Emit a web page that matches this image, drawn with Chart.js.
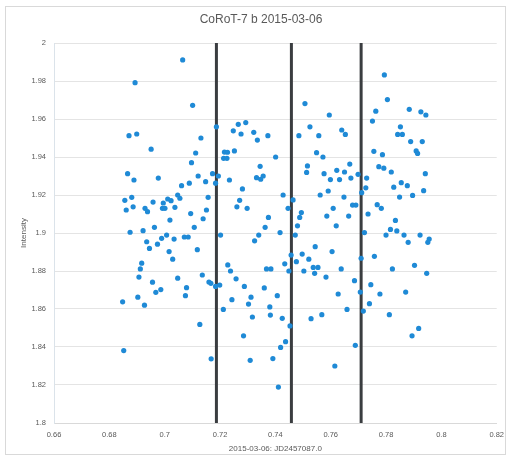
<!DOCTYPE html>
<html>
<head>
<meta charset="utf-8">
<title>CoRoT-7 b 2015-03-06</title>
<script src="https://cdn.jsdelivr.net/npm/chart.js@4/dist/chart.umd.min.js"></script>
<style>
  html, body { margin: 0; padding: 0; background: #ffffff; }
  canvas { display: block; }
</style>
</head>
<body>
<canvas id="lc" width="511" height="459"></canvas>
<script>
// Photometry of the CoRoT-7 b transit night, time as fraction of JD 2457087.0
const chartTitle = 'CoRoT-7 b 2015-03-06';
const xAxisTitle = '2015-03-06: JD2457087.0';
const yAxisTitle = 'Intensity';

const timeJD = [
  0.7065, 0.6893, 0.7101, 0.7187, 0.6871, 0.6899, 0.7131, 0.6951, 0.7112, 0.7097,
  0.6866, 0.6889, 0.6977, 0.7121, 0.7173, 0.7194, 0.7148, 0.7184, 0.7061, 0.7089,
  0.6856, 0.6881, 0.6861, 0.6886, 0.6929, 0.6938, 0.6958, 0.6995, 0.7011, 0.7023,
  0.6992, 0.7001, 0.7037, 0.7047, 0.7055, 0.7094, 0.7151, 0.7157, 0.7019, 0.7139,
  0.6875, 0.6922, 0.6963, 0.7107, 0.6935, 0.6945, 0.6974, 0.6989, 0.7007, 0.7034,
  0.7071, 0.7085, 0.7118, 0.7016, 0.7029, 0.6917, 0.6912, 0.6907, 0.6956, 0.7047,
  0.6968, 0.6986, 0.7079, 0.7075, 0.7136, 0.7160, 0.7167, 0.7184, 0.7199, 0.6903,
  0.6927, 0.6848, 0.7127, 0.6852, 0.7168,
  0.7248, 0.7266, 0.7293, 0.7276, 0.7322, 0.7335, 0.7373, 0.7216, 0.7227, 0.7213,
  0.7225, 0.7252, 0.7234, 0.7345, 0.7332, 0.7347, 0.7356, 0.7281, 0.7271, 0.7261,
  0.7298, 0.7375, 0.7401, 0.7428, 0.7446, 0.7464, 0.7202, 0.7363, 0.7340, 0.7325,
  0.7228, 0.7238, 0.7258, 0.7288, 0.7360, 0.7368, 0.7384, 0.7243, 0.7212, 0.7312,
  0.7303, 0.7380, 0.7317, 0.7382, 0.7285, 0.7309, 0.7391, 0.7417, 0.7434, 0.7449,
  0.7457, 0.7407, 0.7425, 0.7453, 0.7437, 0.7419, 0.7411,
  0.7488, 0.7494, 0.7507, 0.7485, 0.7525, 0.7557, 0.7595, 0.7640, 0.7653, 0.7549,
  0.7572, 0.7516, 0.7513, 0.7576, 0.7599, 0.7622, 0.7632, 0.7650, 0.7669, 0.7673,
  0.7562, 0.7591, 0.7648, 0.7609, 0.7586, 0.7665, 0.7679, 0.7691, 0.7699, 0.7480,
  0.7472, 0.7620, 0.7544, 0.7605, 0.7497, 0.7521, 0.7476, 0.7503, 0.7537, 0.7554,
  0.7542, 0.7583, 0.7638, 0.7686, 0.7627, 0.7529, 0.7568, 0.7659, 0.7615, 0.7689,
  0.7794, 0.7805, 0.7763, 0.7751, 0.7884, 0.7926, 0.7944, 0.7852, 0.7842, 0.7859,
  0.7889, 0.7931, 0.7756, 0.7787, 0.7909, 0.7914, 0.7774, 0.7792, 0.7819, 0.7942,
  0.7730, 0.7727, 0.7712, 0.7828, 0.7855, 0.7877, 0.7849, 0.7896, 0.7936, 0.7768,
  0.7783, 0.7735, 0.7834, 0.7722, 0.7800, 0.7816, 0.7839, 0.7865, 0.7880, 0.7923,
  0.7956, 0.7951, 0.7710, 0.7758, 0.7823, 0.7903, 0.7947, 0.7745, 0.7707, 0.7778,
  0.7871, 0.7740, 0.7718, 0.7812, 0.7894, 0.7918
];

const intensity = [
  1.9911, 1.9791, 1.9672, 1.9559, 1.9512, 1.9521, 1.9500, 1.9441, 1.9421, 1.9370,
  1.9312, 1.9279, 1.9289, 1.9300, 1.9312, 1.9300, 1.9270, 1.9262, 1.9249, 1.9262,
  1.9172, 1.9188, 1.9121, 1.9138, 1.9130, 1.9112, 1.9163, 1.9158, 1.9179, 1.9170,
  1.9130, 1.9130, 1.9135, 1.9200, 1.9183, 1.9102, 1.9121, 1.9188, 1.9068, 1.9075,
  1.9004, 1.9012, 1.9030, 1.9030, 1.8954, 1.8919, 1.8941, 1.8972, 1.8989, 1.8968,
  1.8979, 1.8979, 1.8912, 1.8902, 1.8862, 1.8841, 1.8811, 1.8768, 1.8741, 1.8762,
  1.8688, 1.8702, 1.8712, 1.8670, 1.8779, 1.8742, 1.8735, 1.8719, 1.8726, 1.8662,
  1.8620, 1.8638, 1.8519, 1.8381, 1.8338,
  1.9538, 1.9572, 1.9581, 1.9521, 1.9530, 1.9489, 1.9512, 1.9426, 1.9425, 1.9393,
  1.9393, 1.9432, 1.9279, 1.9351, 1.9291, 1.9283, 1.9300, 1.9232, 1.9172, 1.9138,
  1.9130, 1.9082, 1.9400, 1.9200, 1.9130, 1.9174, 1.8989, 1.9030, 1.8989, 1.8959,
  1.8832, 1.8800, 1.8759, 1.8719, 1.8711, 1.8811, 1.8811, 1.8649, 1.8598, 1.8662,
  1.8626, 1.8611, 1.8558, 1.8568, 1.8459, 1.8330, 1.8339, 1.9002, 1.8838, 1.8800,
  1.8884, 1.8670, 1.8551, 1.8511, 1.8428, 1.8398, 1.8189,
  1.9082, 1.9108, 1.9681, 1.9512, 1.9559, 1.9512, 1.9621, 1.9542, 1.9519, 1.9423,
  1.9400, 1.9353, 1.9319, 1.9312, 1.9281, 1.9330, 1.9281, 1.9321, 1.9363, 1.9289,
  1.9200, 1.9221, 1.9189, 1.9130, 1.9089, 1.9089, 1.9147, 1.9147, 1.9309, 1.9038,
  1.8989, 1.9038, 1.8928, 1.8902, 1.8889, 1.8862, 1.8849, 1.8800, 1.8819, 1.8819,
  1.8788, 1.8768, 1.8811, 1.8749, 1.8679, 1.8549, 1.8570, 1.8598, 1.8300, 1.8409,
  1.9832, 1.9702, 1.9641, 1.9589, 1.9651, 1.9638, 1.9621, 1.9559, 1.9519, 1.9519,
  1.9481, 1.9481, 1.9430, 1.9412, 1.9432, 1.9419, 1.9349, 1.9341, 1.9321, 1.9312,
  1.9289, 1.9238, 1.9212, 1.9241, 1.9265, 1.9249, 1.9189, 1.9198, 1.9223, 1.9149,
  1.9130, 1.9100, 1.9066, 1.9002, 1.8989, 1.9019, 1.9011, 1.8989, 1.8951, 1.8989,
  1.8968, 1.8951, 1.8867, 1.8877, 1.8811, 1.8830, 1.8788, 1.8728, 1.8689, 1.8679,
  1.8689, 1.8628, 1.8589, 1.8570, 1.8459, 1.8498
];

// Transit contact times (ingress, mid-transit, egress)
const transitMarks = [0.7187, 0.7458, 0.7710];

// Axis ranges and tick spacing
const xRange = [0.66, 0.82];
const yRange = [1.8, 2.0];
const tickStep = 0.02;

const points = timeJD.map((t, i) => ({ x: t, y: intensity[i] }));

const markDatasets = transitMarks.map(t => ({
  type: 'line',
  data: [{ x: t, y: yRange[0] }, { x: t, y: yRange[1] }],
  borderColor: '#3a3d40',
  borderWidth: 3,
  pointRadius: 0,
  fill: false,
  order: 2
}));

const fmt = v => String(Number(v.toFixed(2)));

// White page, thin chart frame and the chart heading
const framePlugin = {
  id: 'frame',
  beforeDraw(chart) {
    const ctx = chart.ctx;
    ctx.save();
    ctx.fillStyle = '#ffffff';
    ctx.fillRect(0, 0, chart.width, chart.height);
    ctx.strokeStyle = '#d9d9d9';
    ctx.lineWidth = 1;
    ctx.strokeRect(5.5, 6.5, 500, 448);
    ctx.fillStyle = '#595959';
    ctx.font = '12px "Liberation Sans", Arial, sans-serif';
    ctx.textAlign = 'center';
    ctx.textBaseline = 'middle';
    ctx.fillText(chartTitle, 261, 20);
    ctx.restore();
  }
};

new Chart(document.getElementById('lc'), {
  type: 'scatter',
  data: {
    datasets: [
      {
        label: 'Intensity',
        data: points,
        backgroundColor: '#1f8ad6',
        borderColor: '#1f8ad6',
        borderWidth: 0,
        pointRadius: 2.6,
        pointHoverRadius: 2.6,
        order: 1
      },
      ...markDatasets
    ]
  },
  plugins: [framePlugin],
  options: {
    responsive: false,
    animation: false,
    layout: { padding: { top: 43, right: 13, bottom: 0, left: 0 } },
    plugins: {
      legend: { display: false },
      title: { display: false },
      tooltip: { enabled: false }
    },
    scales: {
      x: {
        type: 'linear',
        min: xRange[0],
        max: xRange[1],
        afterFit(scale) { scale.height = 36; },
        ticks: {
          stepSize: tickStep,
          autoSkip: false,
          maxRotation: 0,
          padding: 7,
          color: '#595959',
          font: { size: 7.5, family: '"Liberation Sans", Arial, sans-serif' },
          callback: v => fmt(v)
        },
        grid: { display: false, drawTicks: false },
        border: { display: true, color: '#d9d9d9', width: 1 },
        title: {
          display: true,
          text: xAxisTitle,
          color: '#595959',
          font: { size: 8, family: '"Liberation Sans", Arial, sans-serif' },
          padding: { top: 0, bottom: 5 }
        }
      },
      y: {
        type: 'linear',
        min: yRange[0],
        max: yRange[1],
        afterFit(scale) { scale.width = 54; },
        ticks: {
          stepSize: tickStep,
          autoSkip: false,
          padding: 8,
          color: '#595959',
          font: { size: 7.5, family: '"Liberation Sans", Arial, sans-serif' },
          callback: v => fmt(v)
        },
        grid: { color: '#e4e4e4', lineWidth: 1, drawTicks: false },
        border: { display: true, color: '#dbe3ea', width: 1 },
        title: {
          display: true,
          text: yAxisTitle,
          color: '#595959',
          font: { size: 8, family: '"Liberation Sans", Arial, sans-serif' },
          padding: { top: 19, bottom: 0 }
        }
      }
    }
  }
});
</script>
</body>
</html>
